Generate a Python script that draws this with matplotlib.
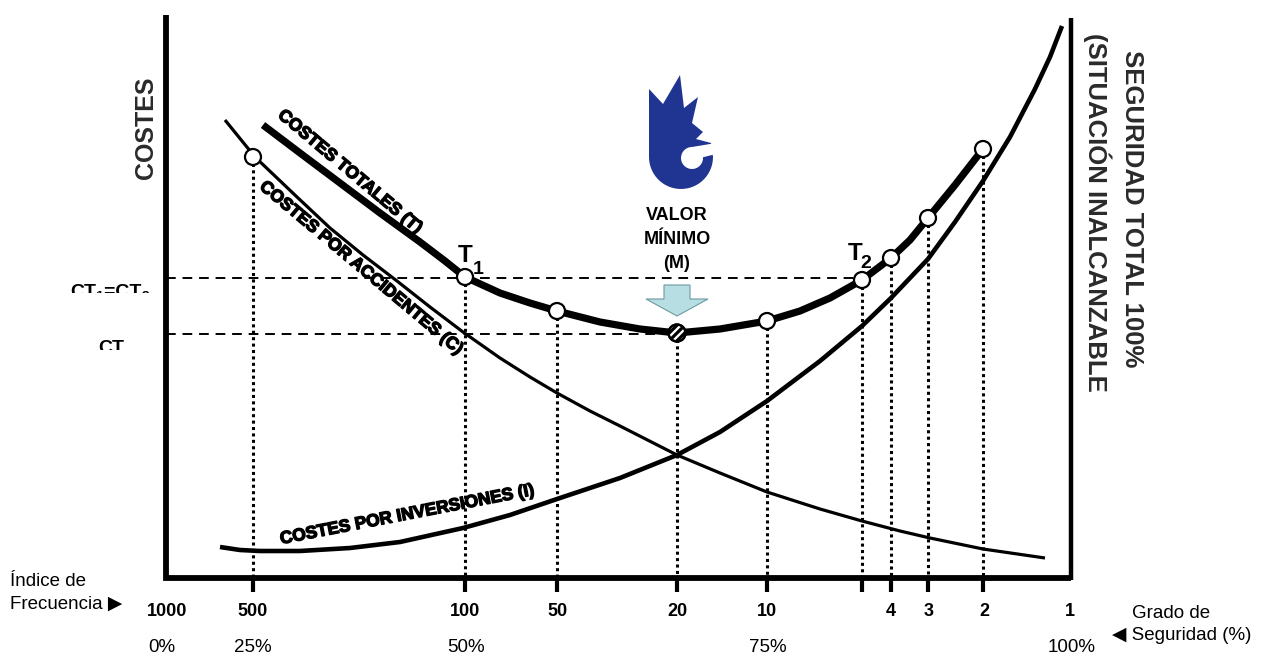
import numpy as np
import matplotlib.pyplot as plt
from matplotlib.patches import Circle, Polygon, Rectangle
import matplotlib.patheffects as pe

plt.rcParams['font.family'] = ['Liberation Sans', 'DejaVu Sans']

# --- values (pixel space of the original diagram) ---
# costes totales (T)
total_x = [263, 300, 340, 380, 420, 445, 465, 500, 530, 557, 600, 640, 677,
           720, 767, 800, 830, 862, 891, 910, 928, 955, 983]
total_y = [125, 153, 183, 213, 242, 261, 277, 293, 303, 311, 322, 329, 333,
           329, 321, 311, 298, 280, 258, 240, 218, 185, 149]

# costes por accidentes (C)
acc_x = [225, 255, 297, 330, 363, 397, 430, 463, 500, 530, 557, 590, 620,
         677, 720, 767, 820, 862, 900, 930, 983, 1045]
acc_y = [120, 157, 197, 228, 255, 281, 307, 332, 358, 377, 393, 411, 426,
         455, 473, 492, 509, 521, 531, 538, 549, 558]

# costes por inversiones (I)
inv_x = [220, 240, 260, 300, 350, 400, 463, 510, 557, 620, 677, 720, 767,
         820, 862, 891, 928, 955, 983, 1010, 1035, 1050, 1062]
inv_y = [547, 550, 551, 551, 548, 542, 528, 515, 499, 478, 455, 432, 401,
         361, 326, 298, 259, 222, 181, 137, 89, 57, 26]

# points marked with circles (x, y)
mark_x = [253, 465, 557, 677, 767, 862, 891, 928, 983]
mark_y = [157, 277, 311, 333, 321, 280, 258, 218, 149]
min_idx = 3  # valor minimo (M)

freq_labels = ['1000', '500', '100', '50', '20', '10', '4', '3', '2', '1']
freq_x = [167, 253, 465, 557, 677, 767, 891, 929, 984, 1070]
pct_labels = ['0%', '25%', '50%', '75%', '100%']
pct_x = [162, 253, 466, 768, 1072]

ct12_y = 278   # CT1 = CT2
ctm_y = 334    # CT minimo

# --- figure ---
fig = plt.figure(figsize=(12.61, 6.54), dpi=100)
ax = fig.add_axes([0, 0, 1, 1])
ax.set_xlim(0, 1261)
ax.set_ylim(654, 0)
ax.axis('off')

x0, x1, ybase = 166, 1071, 578

# frame
ax.plot([x0, x0, x1], [15, ybase, ybase], color='black', lw=4.2,
        solid_joinstyle='miter', solid_capstyle='butt', zorder=3)
ax.plot([x1, x1], [18, ybase + 2], color='black', lw=3.2,
        solid_capstyle='butt', zorder=3)

# ticks below the base line
for xv in mark_x:
    ax.plot([xv, xv], [ybase, 592], color='black', lw=3, solid_capstyle='butt')

# dotted verticals
for xv, yv in zip(mark_x, mark_y):
    ax.plot([xv, xv], [yv, ybase], color='black', lw=2.2,
            linestyle=(0, (1, 1.1)), zorder=1)

# dashed horizontals
ax.plot([x0, mark_x[5]], [ct12_y, ct12_y], color='black', lw=1.4,
        linestyle=(0, (5, 3.5)), zorder=1)
ax.plot([x0, mark_x[min_idx]], [ctm_y, ctm_y], color='black', lw=1.4,
        linestyle=(0, (5, 3.5)), zorder=1)

# curves
ax.plot(acc_x, acc_y, color='black', lw=2.3, solid_capstyle='butt',
        solid_joinstyle='round', zorder=2)
ax.plot(inv_x, inv_y, color='black', lw=3.3, solid_capstyle='butt',
        solid_joinstyle='round', zorder=2)
ax.plot(total_x, total_y, color='black', lw=5.2, solid_capstyle='butt',
        solid_joinstyle='round', zorder=2)

# markers
for i, (xv, yv) in enumerate(zip(mark_x, mark_y)):
    r = 8.5 if i == min_idx else 8
    ax.add_patch(Circle((xv, yv), r, facecolor='white', edgecolor='black',
                        lw=1.6, zorder=5))

# striped marker at the minimum
mx, my = mark_x[min_idx], mark_y[min_idx]
clip = Circle((mx, my), 8.5, transform=ax.transData)
for d in (-5.5, 0, 5.5):
    cx, cy = mx + d * 0.707, my + d * 0.707
    ln, = ax.plot([cx - 12, cx + 12], [cy + 12, cy - 12], color='black',
                  lw=2.3, solid_capstyle='butt', zorder=6)
    ln.set_clip_path(clip)
ax.add_patch(Circle((mx, my), 8.5, facecolor='none', edgecolor='black',
                    lw=1.6, zorder=7))

# arrow pointing at the minimum
arrow = Polygon([(mx - 13, 285), (mx + 13, 285), (mx + 13, 299), (mx + 31, 299),
                 (mx, 316), (mx - 31, 299), (mx - 13, 299)],
                closed=True, facecolor='#b7dfe3', edgecolor='#6e9aa2', lw=0.8,
                zorder=4)
ax.add_patch(arrow)

# logo
blue = '#1f3591'
t = np.linspace(0, np.pi, 30)
arc = [(681 + 32 * np.cos(a), 157 + 32 * np.sin(a)) for a in t]
body = [(649, 89), (663, 104), (680, 75), (684, 108), (698, 97), (692, 123),
        (703, 132), (696, 139), (711, 143), (713, 157)] + arc + [(649, 157)]
ax.add_patch(Polygon(body, closed=True, facecolor=blue, edgecolor='none', zorder=4))
ax.add_patch(Circle((692, 158), 11, facecolor='white', edgecolor='none', zorder=5))
ax.add_patch(Polygon([(692, 147), (716, 143), (716, 154), (692, 160)], closed=True,
                     facecolor='white', edgecolor='none', zorder=5))

# texts
bold = dict(fontweight='bold', color='black')
ax.text(mx, 215, 'VALOR', ha='center', va='center', fontsize=13, **bold)
ax.text(mx, 239, 'MÍNIMO', ha='center', va='center', fontsize=13, **bold)
ax.text(mx, 263, '(M)', ha='center', va='center', fontsize=13, **bold)

ax.text(465, 256, 'T', ha='center', va='center', fontsize=17.5, **bold)
ax.text(478, 269, '1', ha='center', va='center', fontsize=14, **bold)
ax.text(855, 254, 'T', ha='center', va='center', fontsize=17.5, **bold)
ax.text(866, 264, '2', ha='center', va='center', fontsize=14, **bold)

heavy = [pe.withStroke(linewidth=1.0, foreground='black')]
ax.text(350, 172, 'COSTES TOTALES (T)', rotation=-40, rotation_mode='anchor',
        ha='center', va='center', fontsize=12.5, path_effects=heavy, **bold)
ax.text(361, 268, 'COSTES POR ACCIDENTES (C)', rotation=-40,
        rotation_mode='anchor', ha='center', va='center', fontsize=12.5,
        path_effects=heavy, **bold)
ax.text(407, 515, 'COSTES POR INVERSIONES (I)', rotation=11,
        rotation_mode='anchor', ha='center', va='center', fontsize=12.5,
        path_effects=heavy, **bold)

ax.text(146, 128, 'COSTES', rotation=90, ha='center', va='center',
        fontsize=18, fontweight='bold', color='#2a2a2a')
ax.text(1132, 209, 'SEGURIDAD TOTAL 100%', rotation=-90, ha='center',
        va='center', fontsize=18.5, fontweight='bold', color='#2a2a2a')
ax.text(1097, 212, '(SITUACIÓN INALCANZABLE', rotation=-90, ha='center',
        va='center', fontsize=18.5, fontweight='bold', color='#2a2a2a')

# clipped left labels
ax.text(150, 284, 'CT₁=CT₂', ha='right', va='top', fontsize=14, **bold)
ax.add_patch(Rectangle((40, 293), 122, 18, facecolor='white', edgecolor='none', zorder=6))
ax.text(111, 340, 'CT', ha='center', va='top', fontsize=14, **bold)
ax.add_patch(Rectangle((40, 350), 122, 18, facecolor='white', edgecolor='none', zorder=6))

# frequency and percentage labels
for lab, xv in zip(freq_labels, freq_x):
    ax.text(xv, 612, lab, ha='center', va='center', fontsize=13, **bold)
for lab, xv in zip(pct_labels, pct_x):
    ax.text(xv, 648, lab, ha='center', va='center', fontsize=13.5)

ax.text(10, 582, 'Índice de', ha='left', va='center', fontsize=13.5)
ax.text(10, 604, 'Frecuencia ▶', ha='left', va='center', fontsize=13.5,
        family=['Liberation Sans', 'DejaVu Sans'])
ax.text(1132, 613, 'Grado de', ha='left', va='center', fontsize=13.5)
ax.text(1112, 636, '◀ Seguridad (%)', ha='left', va='center', fontsize=13.5,
        family=['Liberation Sans', 'DejaVu Sans'])

fig.savefig('out.png', dpi=100)
